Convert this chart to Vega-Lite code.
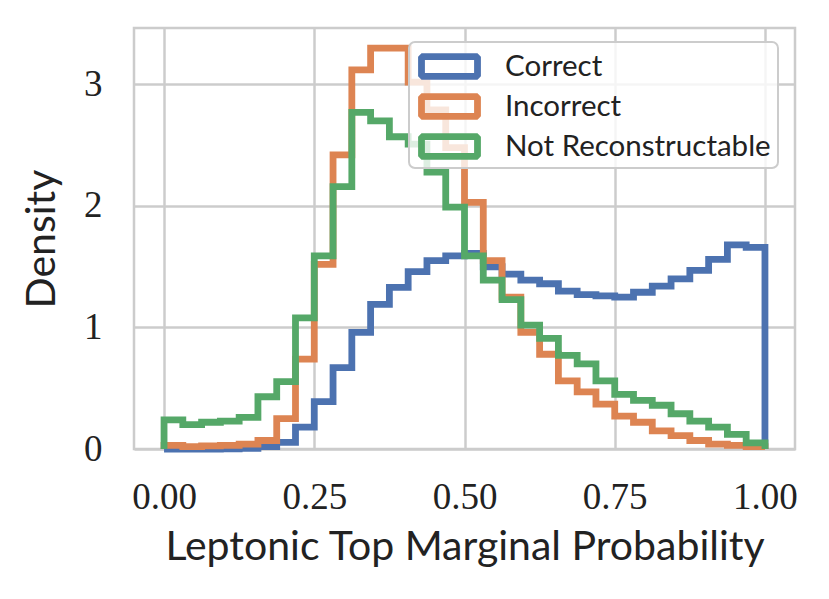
{
  "$schema": "https://vega.github.io/schema/vega-lite/v6.json",
  "width": 661,
  "height": 421,
  "autosize": "none",
  "padding": {"left": 134, "top": 28, "right": 34, "bottom": 150},
  "background": "white",
  "datasets": {
    "hist": [
      {"series": "Correct", "k": 0, "x": 0, "y": 0},
      {"series": "Correct", "k": 1, "x": 0, "y": 0},
      {"series": "Correct", "k": 2, "x": 0.03125, "y": 0},
      {"series": "Correct", "k": 3, "x": 0.0625, "y": 0},
      {"series": "Correct", "k": 4, "x": 0.09375, "y": 0.002},
      {"series": "Correct", "k": 5, "x": 0.125, "y": 0.006},
      {"series": "Correct", "k": 6, "x": 0.15625, "y": 0.02},
      {"series": "Correct", "k": 7, "x": 0.1875, "y": 0.055},
      {"series": "Correct", "k": 8, "x": 0.21875, "y": 0.18},
      {"series": "Correct", "k": 9, "x": 0.25, "y": 0.39},
      {"series": "Correct", "k": 10, "x": 0.28125, "y": 0.67},
      {"series": "Correct", "k": 11, "x": 0.3125, "y": 0.96},
      {"series": "Correct", "k": 12, "x": 0.34375, "y": 1.19},
      {"series": "Correct", "k": 13, "x": 0.375, "y": 1.33},
      {"series": "Correct", "k": 14, "x": 0.40625, "y": 1.46},
      {"series": "Correct", "k": 15, "x": 0.4375, "y": 1.55},
      {"series": "Correct", "k": 16, "x": 0.46875, "y": 1.59},
      {"series": "Correct", "k": 17, "x": 0.5, "y": 1.61},
      {"series": "Correct", "k": 18, "x": 0.53125, "y": 1.5},
      {"series": "Correct", "k": 19, "x": 0.5625, "y": 1.44},
      {"series": "Correct", "k": 20, "x": 0.59375, "y": 1.39},
      {"series": "Correct", "k": 21, "x": 0.625, "y": 1.36},
      {"series": "Correct", "k": 22, "x": 0.65625, "y": 1.3},
      {"series": "Correct", "k": 23, "x": 0.6875, "y": 1.27},
      {"series": "Correct", "k": 24, "x": 0.71875, "y": 1.26},
      {"series": "Correct", "k": 25, "x": 0.75, "y": 1.25},
      {"series": "Correct", "k": 26, "x": 0.78125, "y": 1.29},
      {"series": "Correct", "k": 27, "x": 0.8125, "y": 1.34},
      {"series": "Correct", "k": 28, "x": 0.84375, "y": 1.4},
      {"series": "Correct", "k": 29, "x": 0.875, "y": 1.47},
      {"series": "Correct", "k": 30, "x": 0.90625, "y": 1.56},
      {"series": "Correct", "k": 31, "x": 0.9375, "y": 1.68},
      {"series": "Correct", "k": 32, "x": 0.96875, "y": 1.66},
      {"series": "Correct", "k": 33, "x": 1, "y": 1.66},
      {"series": "Correct", "k": 34, "x": 1, "y": 0},

      {"series": "Incorrect", "k": 0, "x": 0, "y": 0},
      {"series": "Incorrect", "k": 1, "x": 0, "y": 0.03},
      {"series": "Incorrect", "k": 2, "x": 0.03125, "y": 0.02},
      {"series": "Incorrect", "k": 3, "x": 0.0625, "y": 0.025},
      {"series": "Incorrect", "k": 4, "x": 0.09375, "y": 0.03},
      {"series": "Incorrect", "k": 5, "x": 0.125, "y": 0.04},
      {"series": "Incorrect", "k": 6, "x": 0.15625, "y": 0.07},
      {"series": "Incorrect", "k": 7, "x": 0.1875, "y": 0.25},
      {"series": "Incorrect", "k": 8, "x": 0.21875, "y": 0.74},
      {"series": "Incorrect", "k": 9, "x": 0.25, "y": 1.52},
      {"series": "Incorrect", "k": 10, "x": 0.28125, "y": 2.42},
      {"series": "Incorrect", "k": 11, "x": 0.3125, "y": 3.12},
      {"series": "Incorrect", "k": 12, "x": 0.34375, "y": 3.3},
      {"series": "Incorrect", "k": 13, "x": 0.375, "y": 3.3},
      {"series": "Incorrect", "k": 14, "x": 0.40625, "y": 3.02},
      {"series": "Incorrect", "k": 15, "x": 0.4375, "y": 2.79},
      {"series": "Incorrect", "k": 16, "x": 0.46875, "y": 2.48},
      {"series": "Incorrect", "k": 17, "x": 0.5, "y": 2.03},
      {"series": "Incorrect", "k": 18, "x": 0.53125, "y": 1.55},
      {"series": "Incorrect", "k": 19, "x": 0.5625, "y": 1.25},
      {"series": "Incorrect", "k": 20, "x": 0.59375, "y": 0.96},
      {"series": "Incorrect", "k": 21, "x": 0.625, "y": 0.78},
      {"series": "Incorrect", "k": 22, "x": 0.65625, "y": 0.56},
      {"series": "Incorrect", "k": 23, "x": 0.6875, "y": 0.47},
      {"series": "Incorrect", "k": 24, "x": 0.71875, "y": 0.37},
      {"series": "Incorrect", "k": 25, "x": 0.75, "y": 0.27},
      {"series": "Incorrect", "k": 26, "x": 0.78125, "y": 0.22},
      {"series": "Incorrect", "k": 27, "x": 0.8125, "y": 0.15},
      {"series": "Incorrect", "k": 28, "x": 0.84375, "y": 0.11},
      {"series": "Incorrect", "k": 29, "x": 0.875, "y": 0.07},
      {"series": "Incorrect", "k": 30, "x": 0.90625, "y": 0.04},
      {"series": "Incorrect", "k": 31, "x": 0.9375, "y": 0.03},
      {"series": "Incorrect", "k": 32, "x": 0.96875, "y": 0.02},
      {"series": "Incorrect", "k": 33, "x": 1, "y": 0.02},
      {"series": "Incorrect", "k": 34, "x": 1, "y": 0},

      {"series": "Not Reconstructable", "k": 0, "x": 0, "y": 0},
      {"series": "Not Reconstructable", "k": 1, "x": 0, "y": 0.24},
      {"series": "Not Reconstructable", "k": 2, "x": 0.03125, "y": 0.2},
      {"series": "Not Reconstructable", "k": 3, "x": 0.0625, "y": 0.22},
      {"series": "Not Reconstructable", "k": 4, "x": 0.09375, "y": 0.23},
      {"series": "Not Reconstructable", "k": 5, "x": 0.125, "y": 0.26},
      {"series": "Not Reconstructable", "k": 6, "x": 0.15625, "y": 0.43},
      {"series": "Not Reconstructable", "k": 7, "x": 0.1875, "y": 0.555},
      {"series": "Not Reconstructable", "k": 8, "x": 0.21875, "y": 1.08},
      {"series": "Not Reconstructable", "k": 9, "x": 0.25, "y": 1.59},
      {"series": "Not Reconstructable", "k": 10, "x": 0.28125, "y": 2.16},
      {"series": "Not Reconstructable", "k": 11, "x": 0.3125, "y": 2.77},
      {"series": "Not Reconstructable", "k": 12, "x": 0.34375, "y": 2.7},
      {"series": "Not Reconstructable", "k": 13, "x": 0.375, "y": 2.57},
      {"series": "Not Reconstructable", "k": 14, "x": 0.40625, "y": 2.51},
      {"series": "Not Reconstructable", "k": 15, "x": 0.4375, "y": 2.28},
      {"series": "Not Reconstructable", "k": 16, "x": 0.46875, "y": 1.99},
      {"series": "Not Reconstructable", "k": 17, "x": 0.5, "y": 1.59},
      {"series": "Not Reconstructable", "k": 18, "x": 0.53125, "y": 1.39},
      {"series": "Not Reconstructable", "k": 19, "x": 0.5625, "y": 1.23},
      {"series": "Not Reconstructable", "k": 20, "x": 0.59375, "y": 1.02},
      {"series": "Not Reconstructable", "k": 21, "x": 0.625, "y": 0.91},
      {"series": "Not Reconstructable", "k": 22, "x": 0.65625, "y": 0.77},
      {"series": "Not Reconstructable", "k": 23, "x": 0.6875, "y": 0.7},
      {"series": "Not Reconstructable", "k": 24, "x": 0.71875, "y": 0.56},
      {"series": "Not Reconstructable", "k": 25, "x": 0.75, "y": 0.45},
      {"series": "Not Reconstructable", "k": 26, "x": 0.78125, "y": 0.4},
      {"series": "Not Reconstructable", "k": 27, "x": 0.8125, "y": 0.36},
      {"series": "Not Reconstructable", "k": 28, "x": 0.84375, "y": 0.29},
      {"series": "Not Reconstructable", "k": 29, "x": 0.875, "y": 0.23},
      {"series": "Not Reconstructable", "k": 30, "x": 0.90625, "y": 0.18},
      {"series": "Not Reconstructable", "k": 31, "x": 0.9375, "y": 0.12},
      {"series": "Not Reconstructable", "k": 32, "x": 0.96875, "y": 0.05},
      {"series": "Not Reconstructable", "k": 33, "x": 1, "y": 0.05},
      {"series": "Not Reconstructable", "k": 34, "x": 1, "y": 0}
    ]
  },
  "data": {"name": "hist"},
  "mark": {"type": "line", "interpolate": "step-after", "strokeWidth": 6.8, "strokeJoin": "miter", "strokeCap": "butt"},
  "encoding": {
    "x": {
      "field": "x",
      "type": "quantitative",
      "scale": {"domain": [-0.05, 1.05], "nice": false, "zero": false},
      "axis": {
        "title": "Leptonic Top Marginal Probability",
        "values": [0, 0.25, 0.5, 0.75, 1],
        "format": ".2f",
        "labelPadding": 30,
        "titlePadding": 12
      }
    },
    "y": {
      "field": "y",
      "type": "quantitative",
      "scale": {"domain": [0, 3.465], "nice": false},
      "axis": {
        "title": "Density",
        "values": [0, 1, 2, 3],
        "labelPadding": 32,
        "titlePadding": 20
      }
    },
    "order": {"field": "k", "type": "quantitative"},
    "color": {
      "field": "series",
      "type": "nominal",
      "scale": {
        "domain": ["Correct", "Incorrect", "Not Reconstructable"],
        "range": ["#4C72B0", "#DD8452", "#55A868"]
      },
      "legend": {
        "title": null,
        "orient": "none",
        "legendX": 275,
        "legendY": 14,
        "symbolType": "M-2,-0.7H2V0.7H-2Z",
        "symbolSize": 784,
        "symbolStrokeWidth": 6.8,
        "symbolFillColor": "rgba(0,0,0,0)",
        "symbolOffset": 16,
        "labelFont": "Lato",
        "labelFontSize": 29.5,
        "labelColor": "#222222",
        "labelOffset": 38,
        "labelLimit": 0,
        "rowPadding": 8,
        "padding": 7,
        "fillColor": "rgba(255,255,255,0.8)",
        "strokeColor": "#cccccc",
        "cornerRadius": 6,
        "encode": {
          "symbols": {"update": {"strokeJoin": {"value": "bevel"}}}
        }
      }
    }
  },
  "config": {
    "view": {"stroke": "#cccccc", "strokeWidth": 2.5},
    "axis": {
      "domain": false,
      "ticks": false,
      "grid": true,
      "gridColor": "#cccccc",
      "gridWidth": 2.5,
      "labelFont": "Liberation Serif",
      "labelFontSize": 37,
      "labelColor": "#222222",
      "titleFont": "Lato",
      "titleFontSize": 41,
      "titleFontWeight": "normal",
      "titleColor": "#222222"
    },
    "legend": {"strokeWidth": 2}
  }
}
